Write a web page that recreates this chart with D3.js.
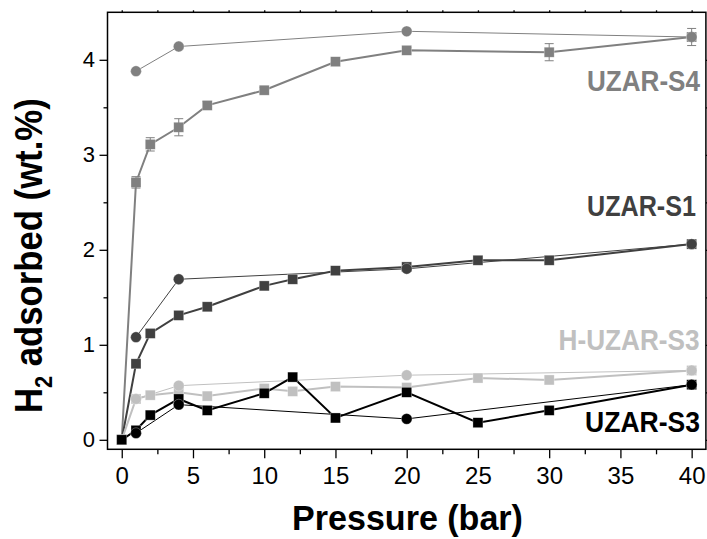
<!DOCTYPE html>
<html>
<head>
<meta charset="utf-8">
<script src="https://cdn.jsdelivr.net/npm/d3@7"></script>
<style>
  body { margin: 0; background: #fff; }
  svg { display: block; }
  text { font-family: "Liberation Sans", Arial, sans-serif; }
</style>
</head>
<body>
<script>
// pressure points (bar)
const pressureS4 = [0, 1, 2, 4, 6, 10, 15, 20, 30, 40];
const pressureS = [0, 1, 2, 4, 6, 10, 12, 15, 20, 25, 30, 40];
const pressureCirc = [1, 4, 20, 40];

// H2 adsorbed (wt.%)
const s4Sq = [0, 2.71, 3.11, 3.29, 3.52, 3.68, 3.98, 4.10, 4.08, 4.24];
const s4Err = [0, 0.06, 0.07, 0.09, 0.04, 0.03, 0.03, 0.03, 0.09, 0.09];
const s4Circ = [3.88, 4.14, 4.30, 4.24];

const s1Sq = [0, 0.80, 1.12, 1.31, 1.40, 1.62, 1.69, 1.78, 1.82, 1.89, 1.89, 2.06];
const s1Circ = [1.08, 1.69, 1.80, 2.06];

const hs3Sq = [0, 0.43, 0.47, 0.50, 0.46, 0.54, 0.51, 0.56, 0.55, 0.65, 0.63, 0.73];
const hs3Circ = [0.43, 0.57, 0.68, 0.73];

const s3Sq = [0, 0.10, 0.26, 0.43, 0.31, 0.49, 0.66, 0.23, 0.50, 0.18, 0.31, 0.58];
const s3Circ = [0.07, 0.37, 0.22, 0.58];

const seriesNames = ["UZAR-S4", "UZAR-S1", "H-UZAR-S3", "UZAR-S3"];
const seriesColors = ["#808080", "#404040", "#c0c0c0", "#000000"];

const xTicks = [0, 5, 10, 15, 20, 25, 30, 35, 40];
const xMinor = [2.5, 7.5, 12.5, 17.5, 22.5, 27.5, 32.5, 37.5];
const yTicks = [0, 1, 2, 3, 4];
const yMinor = [0.5, 1.5, 2.5, 3.5];

const width = 707, height = 539;

const svg = d3.select("body").append("svg")
    .attr("width", width)
    .attr("height", height);

const x = d3.scaleLinear().domain([-1, 41]).range([107.5, 705.9]);
const y = d3.scaleLinear().domain([-0.1, 4.5]).range([449.3, 12.3]);

const series = [
  { name: seriesNames[0], color: seriesColors[0], px: pressureS4, sq: s4Sq, err: s4Err, circ: s4Circ },
  { name: seriesNames[1], color: seriesColors[1], px: pressureS, sq: s1Sq, circ: s1Circ },
  { name: seriesNames[2], color: seriesColors[2], px: pressureS, sq: hs3Sq, circ: hs3Circ },
  { name: seriesNames[3], color: seriesColors[3], px: pressureS, sq: s3Sq, circ: s3Circ }
];

// axes
function styleAxis(g) {
  g.select(".domain").remove();
  g.selectAll("line").attr("stroke", "#000").attr("stroke-width", 1.3);
}

svg.append("g")
    .attr("transform", "translate(0," + y.range()[0] + ")")
    .call(d3.axisBottom(x).tickValues(xTicks).tickSize(9).tickPadding(9).tickFormat(d3.format("d")))
    .call(styleAxis)
    .selectAll("text").attr("font-size", 24).attr("fill", "#000")
    .attr("font-family", "Liberation Sans, Arial, sans-serif");
svg.append("g")
    .attr("transform", "translate(0," + y.range()[0] + ")")
    .call(d3.axisBottom(x).tickValues(xMinor).tickSize(5).tickFormat(""))
    .call(styleAxis);

svg.append("g")
    .attr("transform", "translate(" + x.range()[0] + ",0)")
    .call(d3.axisLeft(y).tickValues(yTicks).tickSize(8).tickPadding(4.5).tickFormat(d3.format("d")))
    .call(styleAxis)
    .selectAll("text").attr("font-size", 22).attr("fill", "#000")
    .attr("font-family", "Liberation Sans, Arial, sans-serif");
svg.append("g")
    .attr("transform", "translate(" + x.range()[0] + ",0)")
    .call(d3.axisLeft(y).tickValues(yMinor).tickSize(4).tickFormat(""))
    .call(styleAxis);

// mirrored axes
svg.append("g")
    .attr("transform", "translate(" + x.range()[1] + ",0)")
    .call(d3.axisRight(y).tickValues(yTicks.concat(yMinor)).tickSize(6).tickFormat(""))
    .call(styleAxis);
svg.append("g")
    .attr("transform", "translate(0," + y.range()[1] + ")")
    .call(d3.axisTop(x).tickValues(xTicks.concat(xMinor)).tickSize(2).tickFormat(""))
    .call(styleAxis);

svg.append("rect")
    .attr("x", x.range()[0])
    .attr("y", y.range()[1])
    .attr("width", x.range()[1] - x.range()[0])
    .attr("height", y.range()[0] - y.range()[1])
    .attr("fill", "none")
    .attr("stroke", "#000")
    .attr("stroke-width", 1.5);

const line = d3.line().x(d => x(d[0])).y(d => y(d[1]));
const plot = svg.append("g");

series.forEach(s => {
  const sqPts = s.px.map((p, i) => [p, s.sq[i]]);
  const circPts = pressureCirc.map((p, i) => [p, s.circ[i]]);
  const g = plot.append("g");

  g.append("path").datum(sqPts).attr("d", line)
      .attr("fill", "none").attr("stroke", s.color).attr("stroke-width", 2);
  g.append("path").datum(circPts).attr("d", line)
      .attr("fill", "none").attr("stroke", s.color).attr("stroke-width", 1);

  g.selectAll(".sq").data(sqPts).enter().append("rect")
      .attr("x", d => x(d[0]) - 5)
      .attr("y", d => y(d[1]) - 5)
      .attr("width", 10).attr("height", 10)
      .attr("fill", s.color)
      .attr("stroke", "#fff").attr("stroke-opacity", 0.5).attr("stroke-width", 0.6);

  g.selectAll(".ci").data(circPts).enter().append("circle")
      .attr("cx", d => x(d[0]))
      .attr("cy", d => y(d[1]))
      .attr("r", 5.4)
      .attr("fill", s.color)
      .attr("stroke", "#fff").attr("stroke-opacity", 0.5).attr("stroke-width", 0.6);

  if (s.err) {
    const eb = sqPts.map((d, i) => [d[0], d[1], s.err[i]]).filter(d => d[2] > 0);
    const eg = g.append("g").attr("stroke", s.color).attr("stroke-width", 1);
    eg.selectAll(".v").data(eb).enter().append("line")
        .attr("x1", d => x(d[0])).attr("x2", d => x(d[0]))
        .attr("y1", d => y(d[1] - d[2])).attr("y2", d => y(d[1] + d[2]));
    eg.selectAll(".t").data(eb).enter().append("line")
        .attr("x1", d => x(d[0]) - 4.5).attr("x2", d => x(d[0]) + 4.5)
        .attr("y1", d => y(d[1] + d[2])).attr("y2", d => y(d[1] + d[2]));
    eg.selectAll(".b").data(eb).enter().append("line")
        .attr("x1", d => x(d[0]) - 4.5).attr("x2", d => x(d[0]) + 4.5)
        .attr("y1", d => y(d[1] - d[2])).attr("y2", d => y(d[1] - d[2]));
  }
});

// squeeze a text horizontally to a given width (narrow bold look)
function fit(sel, tx, ty, w, rot) {
  const n = sel.node().getComputedTextLength();
  sel.attr("transform", "translate(" + tx + "," + ty + ")" + (rot ? " rotate(" + rot + ")" : "") +
    " scale(" + (w / n) + ",1)");
}

// series labels
const labelPos = [[700, 90.7, 113], [696, 215.7, 109], [699.5, 350, 141], [700, 431.7, 115]];
series.forEach((s, i) => {
  const t = svg.append("text")
      .attr("text-anchor", "end")
      .attr("font-size", 30)
      .attr("font-weight", "bold")
      .attr("fill", s.color)
      .text(s.name);
  fit(t, labelPos[i][0], labelPos[i][1], labelPos[i][2]);
});

// axis titles
const xt = svg.append("text")
    .attr("text-anchor", "middle")
    .attr("font-size", 35)
    .attr("font-weight", "bold")
    .text("Pressure (bar)");
fit(xt, 407.5, 529.5, 231);

const yt = svg.append("text")
    .attr("text-anchor", "middle")
    .attr("font-size", 38)
    .attr("font-weight", "bold");
yt.append("tspan").text("H");
yt.append("tspan").attr("font-size", 24).attr("dy", 10).text("2");
yt.append("tspan").attr("dy", -10).text(" adsorbed (wt.%)");
fit(yt, 42, 255.7, 315, -90);
</script>
</body>
</html>
